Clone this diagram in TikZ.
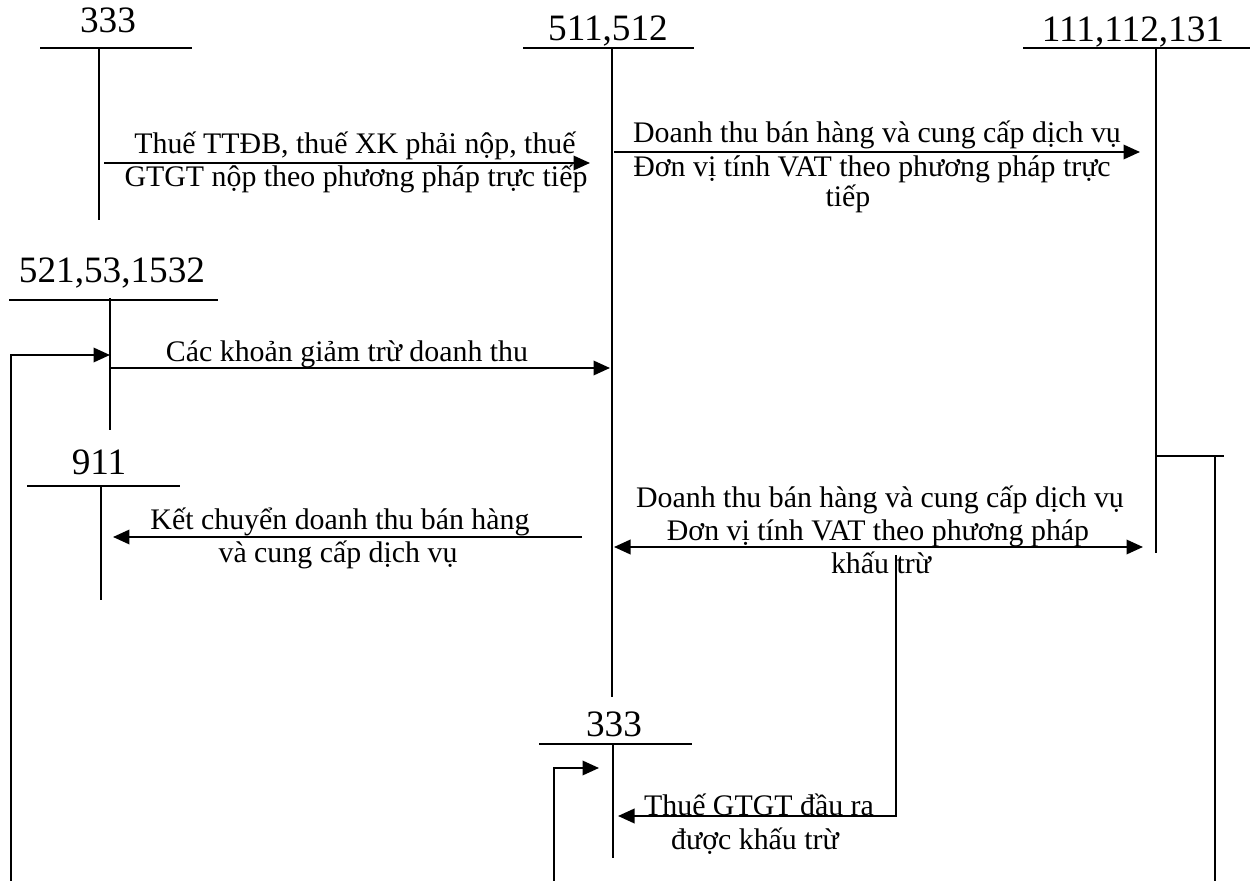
\documentclass[tikz,border=0pt]{standalone}
\usepackage{fontspec}
\setmainfont{Liberation Serif}
\usetikzlibrary{arrows.meta}
\begin{document}
\begin{tikzpicture}[x=0.02cm,y=-0.02cm,
  ln/.style={line width=1.1pt},
  arr/.style={ln,-{Triangle[length=0.33cm,width=0.29cm]}},
  darr/.style={ln,{Triangle[length=0.33cm,width=0.29cm]}-{Triangle[length=0.33cm,width=0.29cm]}},
  acct/.style={font=\fontsize{21.2}{25}\selectfont,anchor=base,inner sep=0pt},
  lbl/.style={font=\fontsize{17}{20}\selectfont,anchor=base,inner sep=0pt}]
\useasboundingbox (0,0) rectangle (1252,881);

% ---- account 333 (top left)
\node[acct] (t333) at (108,33) {333};
\coordinate (t333L) at (40,48); \coordinate (t333R) at (192,48);
\coordinate (t333T) at (99,48); \coordinate (t333B) at (99,220);
\draw[ln] (t333L) -- (t333R); \draw[ln] (t333T) -- (t333B);

% ---- account 511,512
\node[acct] (t511) at (608,41) {511,512};
\coordinate (t511L) at (523,48); \coordinate (t511R) at (694,48);
\coordinate (t511T) at (612,48); \coordinate (t511B) at (612,697);
\draw[ln] (t511L) -- (t511R); \draw[ln] (t511T) -- (t511B);

% ---- account 111,112,131
\node[acct] (t111) at (1133,42) {111,112,131};
\coordinate (t111L) at (1023,48); \coordinate (t111R) at (1250,48);
\coordinate (t111T) at (1156,48); \coordinate (t111B) at (1156,553);
\draw[ln] (t111L) -- (t111R); \draw[ln] (t111T) -- (t111B);

% ---- account 521,53,1532
\node[acct] (t521) at (112,283) {521,53,1532};
\coordinate (t521L) at (9,300); \coordinate (t521R) at (218,300);
\coordinate (t521T) at (110,298); \coordinate (t521B) at (110,430);
\draw[ln] (t521L) -- (t521R); \draw[ln] (t521T) -- (t521B);

% ---- account 911
\node[acct] (t911) at (99,475) {911};
\coordinate (t911L) at (27,486); \coordinate (t911R) at (180,486);
\coordinate (t911T) at (101,486); \coordinate (t911B) at (101,600);
\draw[ln] (t911L) -- (t911R); \draw[ln] (t911T) -- (t911B);

% ---- account 333 (bottom)
\node[acct] (b333) at (614,737) {333};
\coordinate (b333L) at (539,744); \coordinate (b333R) at (692,744);
\coordinate (b333T) at (613,744); \coordinate (b333B) at (613,858);
\draw[ln] (b333L) -- (b333R); \draw[ln] (b333T) -- (b333B);

% ---- arrow 1 : 333 -> 511
\coordinate (e1s) at (104,163); \coordinate (e1e) at (590,163);
\draw[arr] (e1s) -- (e1e);
\node[lbl] (l1a) at (355,154) {Thuế TTĐB, thuế XK phải nộp, thuế};
\node[lbl] (l1b) at (356,187) {GTGT nộp theo phương pháp trực tiếp};

% ---- arrow 2 : 511 -> 111
\coordinate (e2s) at (614,152); \coordinate (e2e) at (1140,152);
\draw[arr] (e2s) -- (e2e);
\node[lbl] (l2a) at (877,143) {Doanh thu bán hàng và cung cấp dịch vụ};
\node[lbl] (l2b) at (872,177) {Đơn vị tính VAT theo phương pháp trực};
\node[lbl] (l2c) at (848,207) {tiếp};

% ---- arrow 3 : 521 -> 511
\coordinate (e3s) at (110,368); \coordinate (e3e) at (610,368);
\draw[arr] (e3s) -- (e3e);
\node[lbl] (l3) at (347,362) {Các khoản giảm trừ doanh thu};

% ---- loop left into 521
\coordinate (e4s) at (11,881); \coordinate (e4e) at (110,355);
\draw[arr] (e4s) |- (e4e);

% ---- arrow 5 : 511 -> 911
\coordinate (e5s) at (582,537); \coordinate (e5e) at (113,537);
\draw[arr] (e5s) -- (e5e);
\node[lbl] (l5a) at (340,530) {Kết chuyển doanh thu bán hàng};
\node[lbl] (l5b) at (338,563) {và cung cấp dịch vụ};

% ---- double arrow 511 <-> 111
\coordinate (e6s) at (614,547); \coordinate (e6e) at (1143,547);
\draw[darr] (e6s) -- (e6e);
\node[lbl] (l6a) at (880,508) {Doanh thu bán hàng và cung cấp dịch vụ};
\node[lbl] (l6b) at (878,541) {Đơn vị tính VAT theo phương pháp};
\node[lbl] (l6c) at (881,574) {khấu trừ};

% ---- VAT output to 333
\coordinate (e7s) at (896,555); \coordinate (e7e) at (618,816);
\draw[arr] (e7s) |- (e7e);
\node[lbl] (l7a) at (759,816) {Thuế GTGT đầu ra};
\node[lbl] (l7b) at (755,850) {được khấu trừ};

% ---- loop into bottom 333
\coordinate (e8s) at (554,881); \coordinate (e8e) at (599,768);
\draw[arr] (e8s) |- (e8e);

% ---- right side bracket
\coordinate (r1) at (1156,456); \coordinate (r2) at (1224,456);
\coordinate (r3) at (1215,456); \coordinate (r4) at (1215,881);
\draw[ln] (r1) -- (r2); \draw[ln] (r3) -- (r4);
\end{tikzpicture}
\end{document}
